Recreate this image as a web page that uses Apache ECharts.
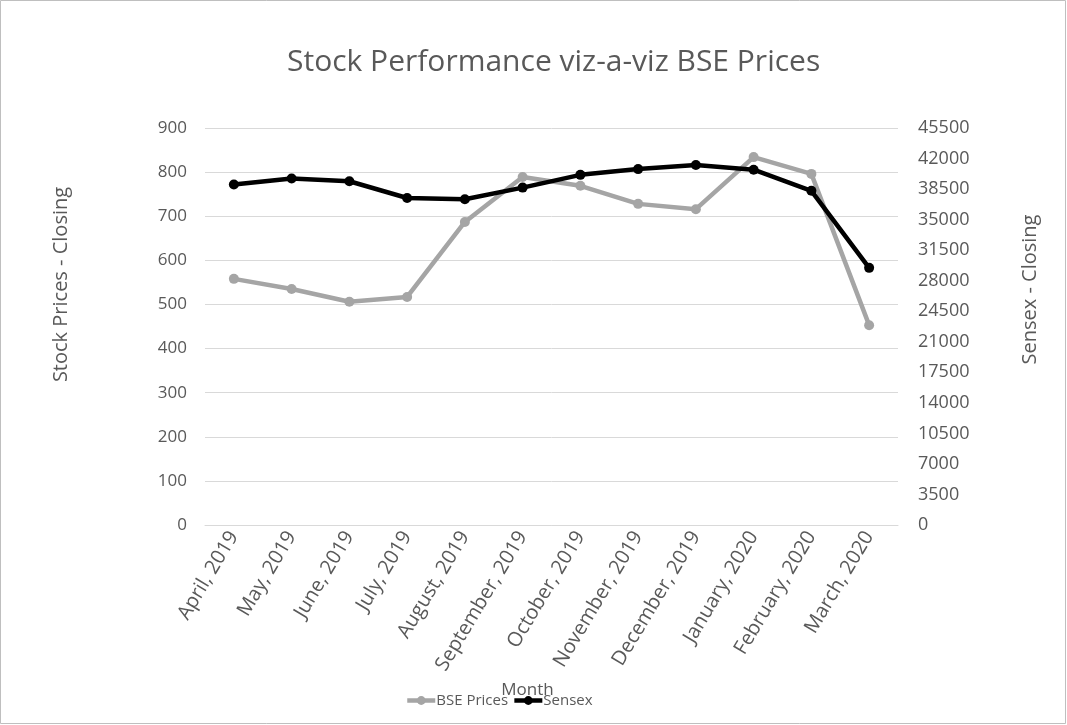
<!DOCTYPE html>
<html>
<head>
<meta charset="utf-8">
<script src="https://cdn.jsdelivr.net/npm/echarts@6/dist/echarts.min.js"></script>
<style>
  html, body { margin: 0; padding: 0; background: #fff; }
  #chart { width: 1067px; height: 725px; }
</style>
</head>
<body>
<div id="chart"></div>
<script>
// 月份
const months = ['April, 2019', 'May, 2019', 'June, 2019', 'July, 2019', 'August, 2019',
  'September, 2019', 'October, 2019', 'November, 2019', 'December, 2019',
  'January, 2020', 'February, 2020', 'March, 2020'];
// 股价收盘（左轴）
const bsePrices = [558, 535, 506, 517, 687, 789, 769, 728, 716, 834, 796, 453];
// Sensex 收盘（右轴）
const sensex = [39030, 39710, 39395, 37480, 37330, 38670, 40130, 40790, 41250, 40720, 38300, 29470];

const txt = '#595959';
const font = '"Open Sans", "Noto Sans", sans-serif';

const myChart = echarts.init(document.getElementById('chart'));
const option = {
  animation: false,
  textStyle: { fontFamily: font },
  title: {
    text: 'Stock Performance viz-a-viz BSE Prices',
    left: 282,
    top: 42,
    textStyle: { color: txt, fontSize: 30, fontWeight: 'normal', fontFamily: font }
  },
  graphic: [{
    type: 'rect',
    shape: { x: 0.5, y: 0.5, width: 1065, height: 723 },
    style: { fill: 'none', stroke: '#bfbfbf', lineWidth: 1 },
    silent: true
  }],
  legend: {
    left: 400,
    top: 688,
    itemGap: 4,
    itemWidth: 28,
    itemHeight: 11,
    textStyle: { color: txt, fontSize: 15, fontFamily: font, padding: [0, 0, 0, -4] },
    data: [
      { name: 'BSE Prices', lineStyle: { width: 4.5 } },
      { name: 'Sensex', lineStyle: { width: 4.5 } }
    ]
  },
  grid: { left: 205, right: 169, top: 128, bottom: 200 },
  xAxis: {
    type: 'category',
    data: months,
    name: 'Month',
    nameLocation: 'middle',
    nameGap: 153,
    nameTextStyle: { color: txt, fontSize: 17, padding: [0, 48, 0, 0] },
    axisLine: { lineStyle: { color: '#d9d9d9' } },
    axisTick: { show: false },
    axisLabel: { color: txt, fontSize: 20, rotate: 59, margin: 8, interval: 0 }
  },
  yAxis: [{
    type: 'value',
    min: 0, max: 900, interval: 100,
    name: 'Stock Prices - Closing',
    nameLocation: 'middle',
    nameGap: 134,
    nameTextStyle: { color: txt, fontSize: 20, padding: [0, 0, 0, 84] },
    axisLabel: { color: txt, fontSize: 17, margin: 18 },
    axisLine: { show: false },
    axisTick: { show: false },
    splitLine: { lineStyle: { color: '#d9d9d9', width: 1 } }
  }, {
    type: 'value',
    min: 0, max: 45500, interval: 3500,
    name: 'Sensex - Closing',
    nameLocation: 'middle',
    nameGap: 122,
    nameTextStyle: { color: txt, fontSize: 20, padding: [0, 0, 0, 74] },
    axisLabel: { color: txt, fontSize: 18, margin: 20, formatter: function (v) { return String(v); } },
    axisLine: { show: false },
    axisTick: { show: false },
    splitLine: { show: false }
  }],
  series: [{
    name: 'BSE Prices',
    type: 'line',
    yAxisIndex: 0,
    data: bsePrices,
    symbol: 'circle',
    symbolSize: 10,
    lineStyle: { color: '#a5a5a5', width: 4.5 },
    itemStyle: { color: '#a5a5a5' },
    z: 2
  }, {
    name: 'Sensex',
    type: 'line',
    yAxisIndex: 1,
    data: sensex,
    symbol: 'circle',
    symbolSize: 10,
    lineStyle: { color: '#000', width: 4.5 },
    itemStyle: { color: '#000' },
    z: 3
  }]
};
myChart.setOption(option);
</script>
</body>
</html>
